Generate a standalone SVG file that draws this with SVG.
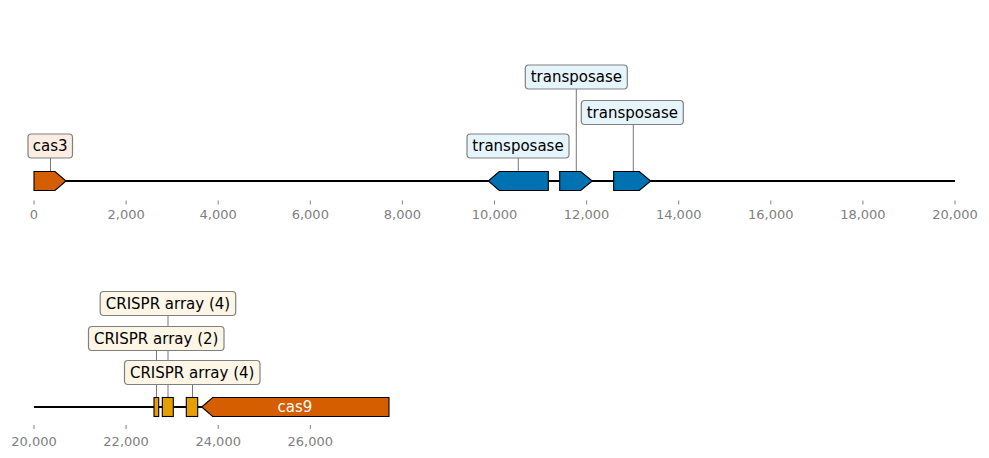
<svg xmlns="http://www.w3.org/2000/svg" width="989" height="458" viewBox="0 0 989 458">
<style>
text{font-family:"DejaVu Sans","Liberation Sans",sans-serif}
.bb{stroke:#000;stroke-width:1.8;fill:none}
.gene{stroke:#000;stroke-width:1.1}
.blue{fill:#0072B2}
.orange{fill:#D55E00}
.yellow{fill:#E69F00}
.lbl{font-size:15px;fill:#000;text-anchor:middle;dominant-baseline:central}
.box{stroke:#808080;stroke-width:1.2}
.bt{fill:#e6f4fb}
.bo{fill:#fcede3}
.by{fill:#fdf6e6}
.lead{stroke:#555;stroke-width:0.8}
.tick{stroke:#808080;stroke-width:1}
.ax{font-size:13px;fill:#808080;text-anchor:middle}
</style>
<rect width="989" height="458" fill="#fff"/>
<g id="axis-top">
<g class="tick">
<line x1="34" y1="200.5" x2="34" y2="204.5"/><line x1="126.1" y1="200.5" x2="126.1" y2="204.5"/><line x1="218.2" y1="200.5" x2="218.2" y2="204.5"/><line x1="310.3" y1="200.5" x2="310.3" y2="204.5"/><line x1="402.4" y1="200.5" x2="402.4" y2="204.5"/><line x1="494.5" y1="200.5" x2="494.5" y2="204.5"/><line x1="586.6" y1="200.5" x2="586.6" y2="204.5"/><line x1="678.7" y1="200.5" x2="678.7" y2="204.5"/><line x1="770.8" y1="200.5" x2="770.8" y2="204.5"/><line x1="862.9" y1="200.5" x2="862.9" y2="204.5"/><line x1="955" y1="200.5" x2="955" y2="204.5"/>
</g>
<text class="ax" x="34" y="219">0</text><text class="ax" x="126.1" y="219">2,000</text><text class="ax" x="218.2" y="219">4,000</text><text class="ax" x="310.3" y="219">6,000</text><text class="ax" x="402.4" y="219">8,000</text><text class="ax" x="494.5" y="219">10,000</text><text class="ax" x="586.6" y="219">12,000</text><text class="ax" x="678.7" y="219">14,000</text><text class="ax" x="770.8" y="219">16,000</text><text class="ax" x="862.9" y="219">18,000</text><text class="ax" x="955" y="219">20,000</text>
</g>
<g id="axis-bottom">
<g class="tick">
<line x1="34" y1="425" x2="34" y2="429"/><line x1="126.1" y1="425" x2="126.1" y2="429"/><line x1="218.2" y1="425" x2="218.2" y2="429"/><line x1="310.3" y1="425" x2="310.3" y2="429"/>
</g>
<text class="ax" x="34" y="446">20,000</text><text class="ax" x="126.1" y="446">22,000</text><text class="ax" x="218.2" y="446">24,000</text><text class="ax" x="310.3" y="446">26,000</text>
</g>
<g id="connectors">
<line class="bb" x1="34" y1="181" x2="955" y2="181"/>
<line class="bb" x1="34" y1="407" x2="389" y2="407"/>
<line class="lead" x1="50.5" y1="158" x2="50.5" y2="171.5"/>
<line class="lead" x1="518.3" y1="158" x2="518.3" y2="171.5"/>
<line class="lead" x1="576.3" y1="89" x2="576.3" y2="171.5"/>
<line class="lead" x1="633.3" y1="124" x2="633.3" y2="171.5"/>
<line class="lead" x1="156.5" y1="350" x2="156.5" y2="397.5"/>
<line class="lead" x1="168" y1="315.5" x2="168" y2="397.5"/>
<line class="lead" x1="192.5" y1="384" x2="192.5" y2="397.5"/>
</g>
<g id="cas3">
<polygon class="gene orange" points="34,171.5 55,171.5 66,181 55,190.5 34,190.5"/>
<rect class="box bo" x="28" y="134" width="44.5" height="24" rx="3.5"/>
<text class="lbl" x="50.2" y="146">cas3</text>
</g>
<g id="transposase1">
<polygon class="gene blue" points="488.3,181 499.3,171.5 548.3,171.5 548.3,190.5 499.3,190.5"/>
<rect class="box bt" x="467" y="134" width="102" height="24" rx="3.5"/>
<text class="lbl" x="518" y="146">transposase</text>
</g>
<g id="transposase2">
<polygon class="gene blue" points="559.7,171.5 580.7,171.5 592.3,181 580.7,190.5 559.7,190.5"/>
<rect class="box bt" x="525.3" y="65" width="102" height="24" rx="3.5"/>
<text class="lbl" x="576.3" y="77">transposase</text>
</g>
<g id="transposase3">
<polygon class="gene blue" points="613.7,171.5 639.3,171.5 650.7,181 639.3,190.5 613.7,190.5"/>
<rect class="box bt" x="581.3" y="100.5" width="102" height="24" rx="3.5"/>
<text class="lbl" x="632.3" y="112.5">transposase</text>
</g>
<g id="crispr1">
<rect class="gene yellow" x="154" y="397.5" width="4.7" height="19"/>
<rect class="box by" x="88.5" y="326.5" width="135.5" height="24" rx="3.5"/>
<text class="lbl" x="156.2" y="338.5">CRISPR array (2)</text>
</g>
<g id="crispr2">
<rect class="gene yellow" x="162.3" y="397.5" width="11" height="19"/>
<rect class="box by" x="100.2" y="291.5" width="135.5" height="24" rx="3.5"/>
<text class="lbl" x="168" y="303.5">CRISPR array (4)</text>
</g>
<g id="crispr3">
<rect class="gene yellow" x="186.3" y="397.5" width="11.4" height="19"/>
<rect class="box by" x="124.5" y="360.5" width="135.5" height="24" rx="3.5"/>
<text class="lbl" x="192.2" y="372.5">CRISPR array (4)</text>
</g>
<g id="cas9">
<polygon class="gene orange" points="201.7,407 212.7,397.5 389,397.5 389,416.5 212.7,416.5"/>
<text class="lbl" x="295" y="407" style="fill:#fff">cas9</text>
</g>
</svg>
